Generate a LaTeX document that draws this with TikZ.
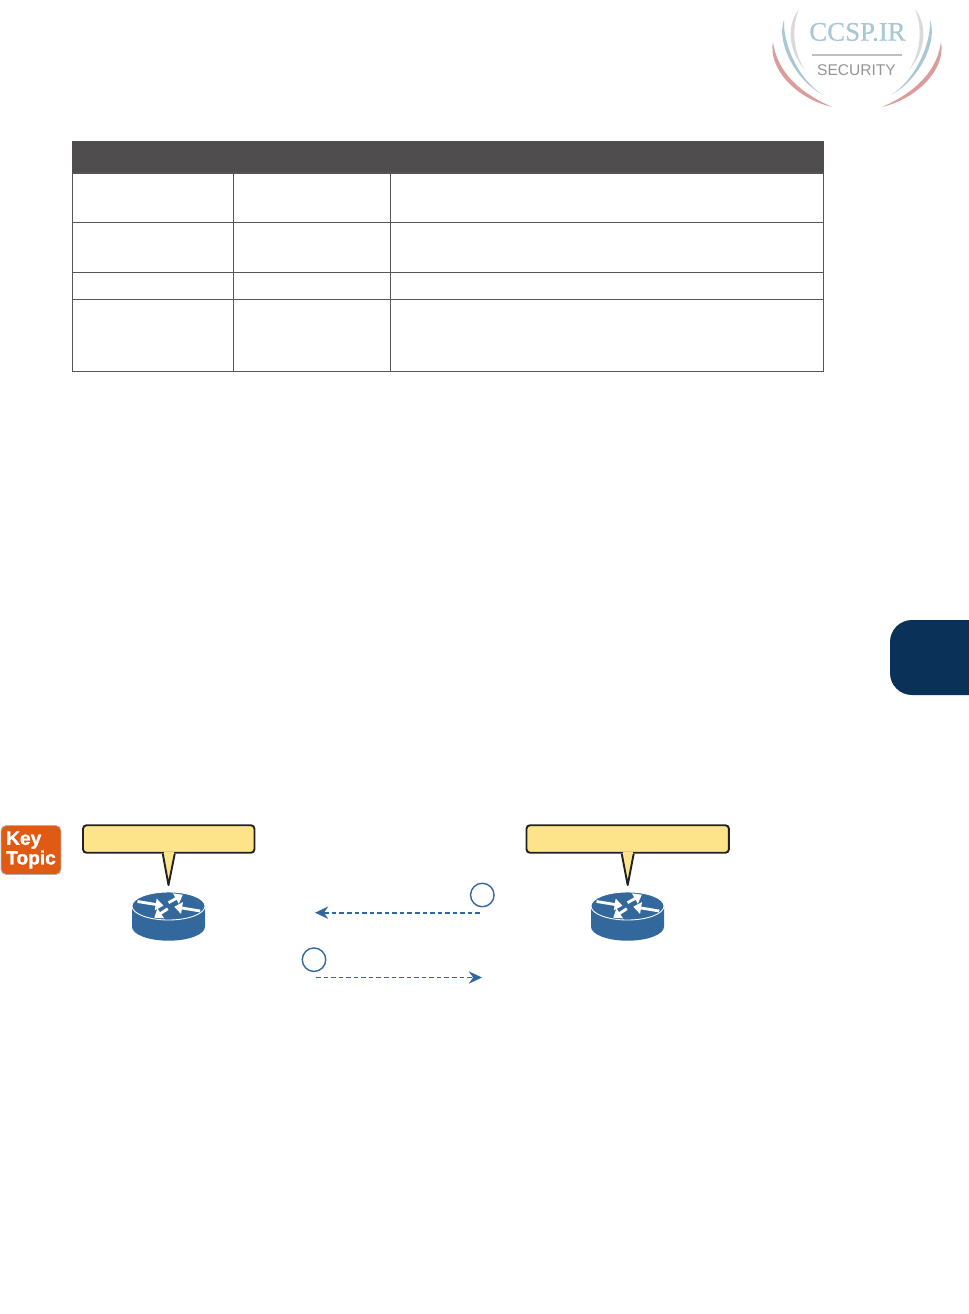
\documentclass[tikz,border=0pt]{standalone}
\usepackage{xcolor}
\usepackage{fontspec}
\setmainfont{Liberation Sans}
\newfontfamily\logoserif[FakeBold=0.7]{Liberation Serif}
\newfontfamily\keyfont[UprightFont={* Bold}, FakeBold=1.5]{Liberation Sans}
\usetikzlibrary{arrows.meta, positioning}
\definecolor{headgray}{HTML}{4F4D4E}
\definecolor{rulegray}{HTML}{555555}
\definecolor{tabblue}{HTML}{0A3158}
\definecolor{routerblue}{HTML}{33689C}
\definecolor{bubblefill}{HTML}{FDE38A}
\definecolor{bubbleline}{HTML}{222222}
\definecolor{keyorange}{HTML}{E05A14}
\definecolor{logogray}{HTML}{DADADA}
\definecolor{logoblue}{HTML}{A9C8D6}
\definecolor{logored}{HTML}{DB9C9C}

\begin{document}
\begin{tikzpicture}[
    x=0.02cm, y=-0.02cm,
    bubble/.style={rectangle, draw=bubbleline, fill=bubblefill, rounded corners=2pt,
                   minimum height=0.55cm, line width=1.1pt, inner sep=0pt},
    keybox/.style={rectangle, draw=black!30, fill=keyorange, rounded corners=3pt, line width=0.5pt,
                   minimum width=1.2cm, minimum height=0.98cm, inner sep=0pt, align=left, text=white,
                   font=\keyfont\fontsize{10.9}{9.7}\selectfont},
    stepmark/.style={circle, draw=routerblue, line width=0.8pt, minimum size=0.47cm, inner sep=0pt},
    flow/.style={routerblue, dash pattern=on 2.6pt off 1.7pt, line width=1.05pt,
                 -{Stealth[length=7.5pt, width=7pt]}},
    routerarrow/.style={white, line width=1.6pt, -{Triangle[length=4.5pt, width=6.5pt]}},
    router/.pic={
        \fill[routerblue] (-36.5,0) -- (-36.5,20.7) arc[start angle=180, end angle=0, x radius=36.5, y radius=14]
            -- (36.5,0) -- cycle;
        \draw[white, fill=routerblue, line width=0.5pt] (0,0) ellipse[x radius=36.5, y radius=14];
        \draw[routerarrow] (-31,-4.5) -- (-5,-0.3);
        \draw[routerarrow] (0,-3.3) -- (14.3,-11.3);
        \draw[routerarrow] (31.7,5) -- (5.7,0.7);
        \draw[routerarrow] (-0.7,2.7) -- (-14.3,11.7);
    },
]
    \useasboundingbox (0,0) rectangle (969,1314);

    % ── Logo ──
    \foreach \m in {1,-1} {
        \begin{scope}[shift={(857,0)}, xscale=\m]
            \fill[logogray] (-58,9) .. controls (-70,24) and (-70,50) .. (-52,70)
                .. controls (-65,50) and (-65,26) .. cycle;
            \fill[logoblue] (-73,20) .. controls (-81,42) and (-62,80) .. (-34,95)
                .. controls (-58,80) and (-74,45) .. cycle;
            \fill[logored] (-84,42) .. controls (-89,68) and (-62,98) .. (-25,107)
                .. controls (-57,93) and (-80,72) .. cycle;
        \end{scope}
    }
    \node[font=\logoserif\fontsize{15.3}{16}\selectfont, text=logoblue, inner sep=0pt] (logotext) at (857.5,32) {CCSP.IR};
    \node[font=\fontsize{8.85}{10}\selectfont, text=black!42, inner sep=0pt] (logosub) at (856.5,70.5) {SECURITY};
    \draw[black!25, line width=1.3pt] (812,55) -- (902,55);

    % ── Table ──
    \fill[headgray] (72,141) rectangle (824,173);
    \draw[rulegray, line width=0.65pt] (72.5,173) rectangle (823.5,371.5);
    \foreach \rowy in {222.5, 272.5, 299.5}
        \draw[rulegray, line width=0.65pt] (72.5,\rowy) -- (823.5,\rowy);
    \foreach \colx in {233.5, 390.5}
        \draw[rulegray, line width=0.65pt] (\colx,173) -- (\colx,371.5);

    % ── Chapter tab ──
    \fill[tabblue] (969,620) -- (912,620) arc[start angle=270, end angle=180, radius=22]
        -- (890,673) arc[start angle=180, end angle=90, radius=22] -- (969,695) -- cycle;

    % ── Key topic ──
    \node[keybox] (key) at (31,850) {Key\\Topic};

    % ── Routers ──
    \pic at (168.5,906) {router};
    \pic at (627.5,906) {router};

    % ── Callouts ──
    \node[bubble, minimum width=3.43cm] (leftnote) at (168.75,839) {};
    \node[bubble, minimum width=4.05cm] (rightnote) at (627.7,839) {};
    \coordinate (lefttip) at (168.5,885);
    \coordinate (righttip) at (627.7,885);
    \foreach \note/\tip in {leftnote/lefttip, rightnote/righttip} {
        \fill[bubblefill] ([xshift=-0.11cm]\note.south) -- (\tip) -- ([xshift=0.11cm]\note.south) -- cycle;
        \draw[bubbleline, line width=1.1pt, line join=round] ([xshift=-0.12cm]\note.south) -- (\tip) -- ([xshift=0.12cm]\note.south);
        \fill[bubblefill] ([xshift=-0.1cm]\note.south) rectangle ([xshift=0.1cm, yshift=0.04cm]\note.south);
    }

    % ── Exchange ──
    \node[stepmark] (stepb) at (482.3,895) {};
    \node[stepmark] (stepa) at (314,959.7) {};
    \coordinate (bstart) at (480,912.7);
    \coordinate (bend) at (315,912.7);
    \coordinate (astart) at (316,977.5);
    \coordinate (aend) at (482,977.5);
    \draw[flow] (bstart) -- (bend);
    \draw[flow] (astart) -- (aend);
\end{tikzpicture}
\end{document}
